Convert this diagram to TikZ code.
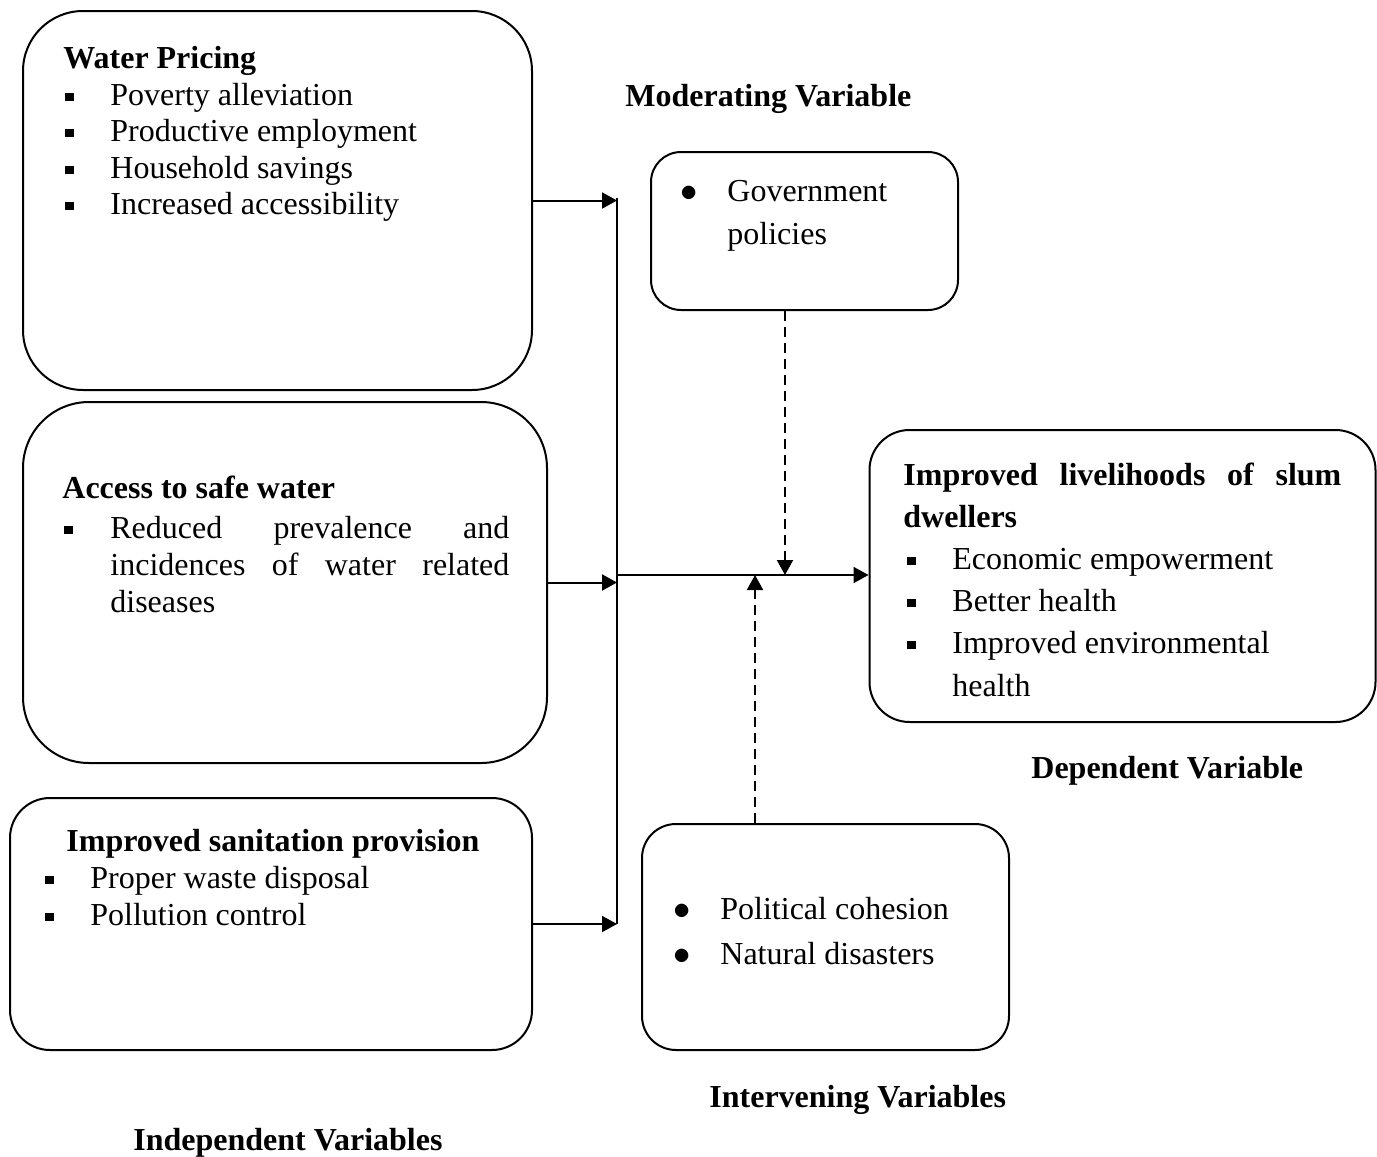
\documentclass[tikz,border=0pt]{standalone}
\usepackage{fontspec}
\setmainfont{Liberation Serif}
\usetikzlibrary{arrows.meta,calc}
\newcommand{\sqb}{\rule[2pt]{4.2pt}{4.2pt}}
\newcommand{\rdb}{$\bullet$}
\begin{document}
\begin{tikzpicture}[x=0.5pt,y=-0.5pt,
  box/.style={draw, line width=1pt, rectangle, inner sep=0pt},
  txt/.style={anchor=base west, inner sep=0pt, font=\fontsize{16pt}{19pt}\selectfont},
  hd/.style={anchor=base west, inner sep=0pt, font=\fontsize{16pt}{19pt}\selectfont\bfseries},
  conn/.style={line width=1pt, -{Triangle[length=7.5pt,width=8pt]}},
  dconn/.style={conn, dash pattern=on 5pt off 3pt}]
\useasboundingbox (0,0) rectangle (1377,1157);

% boxes
\node[box, rounded corners=30pt, minimum width=254.5pt, minimum height=189.5pt] (b1) at (277.5,200.5) {};
\node[box, rounded corners=33pt, minimum width=262pt, minimum height=180.5pt] (b2) at (285,582.5) {};
\node[box, rounded corners=20pt, minimum width=261pt, minimum height=126pt] (b3) at (271,924) {};
\node[box, rounded corners=15pt, minimum width=153.5pt, minimum height=79pt] (mod) at (804.5,231) {};
\node[box, rounded corners=20pt, minimum width=253pt, minimum height=146pt] (dep) at (1122.5,576) {};
\node[box, rounded corners=17pt, minimum width=183.5pt, minimum height=113pt] (int) at (825.5,937) {};

% box 1
\node[hd] (t1) at (63,68) {Water Pricing};
\node[txt] (t1a) at (65,105) {\makebox[22.5pt][l]{\sqb}Poverty alleviation};
\node[txt] (t1b) at (65,141) {\makebox[22.5pt][l]{\sqb}Productive employment};
\node[txt] (t1c) at (65,178) {\makebox[22.5pt][l]{\sqb}Household savings};
\node[txt] (t1d) at (65,214) {\makebox[22.5pt][l]{\sqb}Increased accessibility};

% box 2
\node[hd] (t2) at (62,498) {Access to safe water};
\node[txt] (t2a) at (64,538) {\makebox[23pt][l]{\sqb}\makebox[199.5pt][s]{Reduced prevalence and}};
\node[txt] (t2b) at (110,575) {\makebox[199.5pt][s]{incidences of water related}};
\node[txt] (t2c) at (110,612) {diseases};

% box 3
\node[hd] (t3) at (66,851) {Improved sanitation provision};
\node[txt] (t3a) at (45,888) {\makebox[22.5pt][l]{\sqb}Proper waste disposal};
\node[txt] (t3b) at (45,925) {\makebox[22.5pt][l]{\sqb}Pollution control};

% moderating
\node[hd] (hm) at (625,106) {Moderating Variable};
\node[txt] (m1) at (680,201) {\makebox[23.5pt][l]{\rdb}Government};
\node[txt] (m2) at (727,244) {policies};

% dependent
\node[hd] (d0) at (903,485) {\makebox[219pt][s]{Improved livelihoods of slum}};
\node[hd] (d1) at (903,527) {dwellers};
\node[txt] (d2) at (907,569) {\makebox[22.5pt][l]{\sqb}Economic empowerment};
\node[txt] (d3) at (907,611) {\makebox[22.5pt][l]{\sqb}Better health};
\node[txt] (d4) at (907,653) {\makebox[22.5pt][l]{\sqb}Improved environmental};
\node[txt] (d5) at (952,696) {health};
\node[hd] (hd) at (1031,778) {Dependent Variable};

% intervening
\node[txt] (i1) at (673,919) {\makebox[23.5pt][l]{\rdb}Political cohesion};
\node[txt] (i2) at (673,964) {\makebox[23.5pt][l]{\rdb}Natural disasters};
\node[hd] (hi) at (709,1107) {Intervening Variables};

% independent label
\node[hd] (hind) at (133,1150) {Independent Variables};

% connectors
\coordinate (st) at (617,198);
\coordinate (sb) at (617,924);
\coordinate (j) at (617,575);
\draw[line width=1pt] (st) -- (sb);
\draw[conn] (b1.east) -- (b1.east -| st);
\draw[conn] (b2.east) -- (b2.east -| st);
\draw[conn] (b3.east) -- (b3.east -| st);
\draw[conn] (j) -- (j -| dep.west);
\coordinate (mf) at ($(mod.south)+(-19.5,0)$);
\draw[dconn] (mf) -- (mf |- j);
\coordinate (if) at ($(int.north)+(-70.5,0)$);
\draw[dconn] (if) -- (if |- j);
\end{tikzpicture}
\end{document}
